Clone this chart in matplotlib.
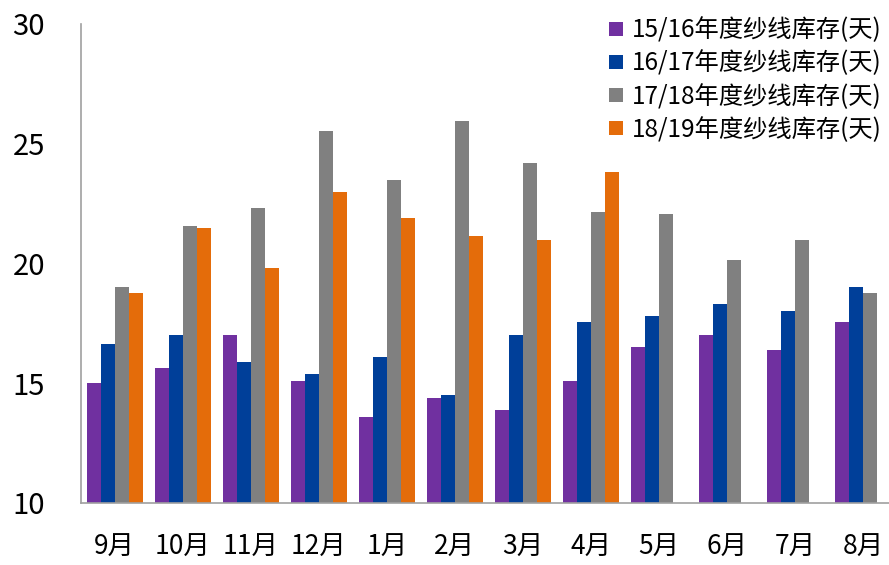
import matplotlib
matplotlib.use("Agg")
import matplotlib.pyplot as plt
from matplotlib.lines import Line2D
import numpy as np

plt.rcParams['font.family'] = ['Noto Sans CJK SC', 'DejaVu Sans']

months = ["9月", "10月", "11月", "12月", "1月", "2月", "3月", "4月", "5月", "6月", "7月", "8月"]
series_names = ["15/16年度纱线库存(天)", "16/17年度纱线库存(天)",
                "17/18年度纱线库存(天)", "18/19年度纱线库存(天)"]
s1516 = [15.0, 15.65, 17.0, 15.1, 13.6, 14.4, 13.9, 15.1, 16.5, 17.0, 16.4, 17.55]
s1617 = [16.65, 17.0, 15.9, 15.4, 16.1, 14.5, 17.0, 17.55, 17.8, 18.3, 18.0, 19.0]
s1718 = [19.0, 21.55, 22.3, 25.55, 23.5, 25.95, 24.2, 22.15, 22.05, 20.15, 21.0, 18.75]
s1819 = [18.75, 21.5, 19.8, 23.0, 21.9, 21.15, 21.0, 23.8]
colors = ["#7030A0", "#003F99", "#808080", "#E46C0A"]

fig = plt.figure(figsize=(8.89, 5.65), dpi=100)
ax = fig.add_axes([81 / 889, 1 - 503 / 565, (889 - 81) / 889, (503 - 24) / 565])

width = 0.206
x = np.arange(len(months))
all_series = [s1516, s1617, s1718, s1819]
offsets = [-1.5, -0.5, 0.5, 1.5]
for vals, off, col in zip(all_series, offsets, colors):
    xs = x[:len(vals)] + off * width
    ax.bar(xs, np.array(vals) - 10, bottom=10, width=width, color=col, linewidth=0)

ax.set_ylim(10, 30)
ax.set_xlim(-0.495, 11.378)
ax.set_yticks([10, 15, 20, 25, 30])
ax.set_xticks(x)
ax.set_xticklabels(months)
ax.tick_params(axis='y', length=0, pad=26, labelsize=21)
ax.tick_params(axis='x', length=0, pad=22, labelsize=19)
for lbl in ax.get_yticklabels():
    lbl.set_horizontalalignment('right')

for side in ["top", "right"]:
    ax.spines[side].set_visible(False)
for side in ["left", "bottom"]:
    ax.spines[side].set_color("#A0A0A0")
    ax.spines[side].set_linewidth(1.2)

handles = [Line2D([], [], marker='s', linestyle='none', markersize=10,
                  markerfacecolor=c, markeredgewidth=0) for c in colors]
fig.legend(handles, series_names, loc='upper right', bbox_to_anchor=(1.011, 1.0),
           frameon=False, fontsize=17.5, handletextpad=0.3, labelspacing=0.3,
           handlelength=0.7, borderaxespad=0.3)

fig.savefig("out.png", dpi=100)
